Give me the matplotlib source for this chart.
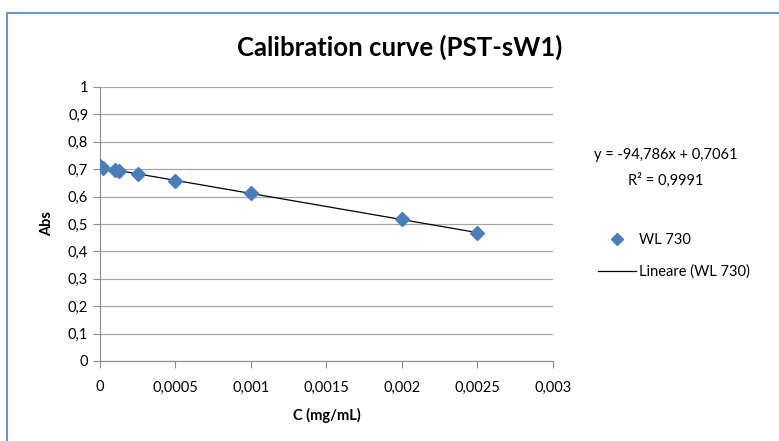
import numpy as np
import matplotlib
matplotlib.use("Agg")
from matplotlib import pyplot as plt
from matplotlib.lines import Line2D
from matplotlib.patches import Rectangle
from matplotlib.ticker import FuncFormatter, MultipleLocator

plt.rcParams['font.family'] = ['Lato', 'DejaVu Sans']

# Data
conc = [0.0, 0.00002, 0.0001, 0.000125, 0.00025, 0.0005, 0.001, 0.002, 0.0025]
absorb = [0.711, 0.704, 0.697, 0.693, 0.682, 0.657, 0.613, 0.518, 0.467]
eq_text = "y = -94,786x + 0,7061"
r2_text = "R² = 0,9991"
x_ticks = [0, 0.0005, 0.001, 0.0015, 0.002, 0.0025, 0.003]

blue = '#4A7EBB'
grey = '#8C8C8C'

fig = plt.figure(figsize=(7.79, 4.41), dpi=100)
# chart area border
fig.patches.append(Rectangle((7 / 779, -0.05), 1.2, 1 - 13 / 441 + 0.05,
                             transform=fig.transFigure, fill=False,
                             edgecolor='#5B8BC9', linewidth=1.3))

ax = fig.add_axes([100 / 779, 1 - 361 / 441, 453 / 779, 274 / 441])

# linear trendline
slope, icpt = np.polyfit(conc, absorb, 1)
xs = np.array([min(conc), max(conc)])
ax.plot(xs, slope * xs + icpt, color='black', linewidth=0.9, zorder=3)
ax.plot(conc, absorb, linestyle='none', marker='D', markersize=7,
        color=blue, zorder=4)

ax.set_xlim(0, 0.003)
ax.set_ylim(0, 1)
ax.set_xticks(x_ticks)
ax.yaxis.set_major_locator(MultipleLocator(0.1))


def comma(v, pos):
    s = ('%.4f' % v).rstrip('0').rstrip('.')
    return s.replace('.', ',')


ax.xaxis.set_major_formatter(FuncFormatter(comma))
ax.yaxis.set_major_formatter(FuncFormatter(comma))
ax.grid(axis='y', color='#A6A6A6', linewidth=0.9)
ax.set_axisbelow(True)
for side in ['top', 'right']:
    ax.spines[side].set_visible(False)
for side in ['left', 'bottom']:
    ax.spines[side].set_color(grey)
ax.tick_params(colors=grey, labelcolor='black', labelsize=10.5, length=5)
ax.tick_params(axis='x', pad=9)

ax.set_xlabel('C (mg/mL)', fontsize=10.5, fontweight='bold', labelpad=10)
ax.set_ylabel('Abs', fontsize=10.5, fontweight='bold', labelpad=10)
fig.text(0.513, 1 - 47 / 441, 'Calibration curve (PST-sW1)', ha='center',
         va='center', fontsize=18.5, fontweight='bold')

fig.text(666 / 779, 1 - 155 / 441, eq_text, ha='center', va='center', fontsize=10.5)
fig.text(666 / 779, 1 - 180 / 441, r2_text, ha='center', va='center', fontsize=10.5)

handles = [Line2D([], [], linestyle='none', marker='D', markersize=6, color=blue),
           Line2D([], [], color='black', linewidth=0.9)]
fig.legend(handles, ['WL 730', 'Lineare (WL 730)'], loc='center left',
           bbox_to_anchor=(585 / 779, 1 - 256 / 441), frameon=False,
           fontsize=10.5, handlelength=2.6, handletextpad=0.2,
           labelspacing=1.2)

fig.savefig('out.png', dpi=100)
